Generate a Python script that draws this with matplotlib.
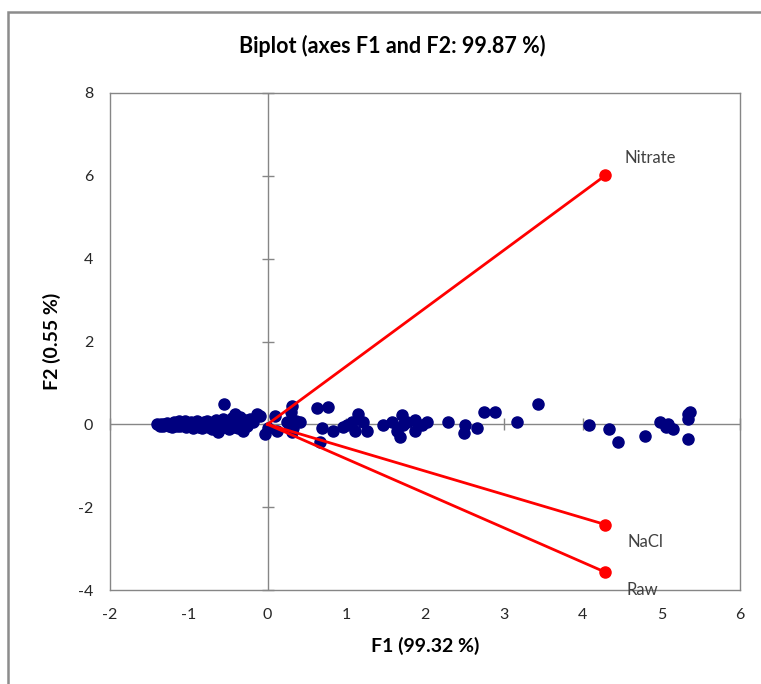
import matplotlib
matplotlib.use("Agg")
import matplotlib.pyplot as plt
from matplotlib.patches import Rectangle

plt.rcParams['font.family'] = ['Lato', 'DejaVu Sans']
plt.rcParams['axes.unicode_minus'] = False

# Observations (F1, F2)
obs_f1 = [-1.40, -1.37, -1.35, -1.33, -1.31, -1.29, -1.27, -1.25, -1.23, -1.21,
          -1.19, -1.17, -1.15, -1.13, -1.11, -1.09, -1.07, -1.05, -1.03, -1.01,
          -0.99, -0.97, -0.95, -0.93, -0.91, -0.89, -0.87, -0.85, -0.83, -0.81,
          -0.79, -0.77, -0.75, -0.73, -0.71, -0.69, -0.67, -0.65, -0.63, -0.61,
          -0.59, -0.57, -0.55, -0.53, -0.51, -0.49, -0.47, -0.45, -0.43, -0.41,
          -0.39, -0.37, -0.35, -0.33, -0.31, -0.29, -0.26, -0.22, -0.18, -0.13,
          -0.10, -0.03, 0.00,
          0.10, 0.12, 0.25, 0.28, 0.30, 0.31, 0.31, 0.33, 0.36, 0.41,
          0.63, 0.77, 0.69, 0.83, 0.67, 1.01, 1.07, 1.15, 1.11, 1.21, 1.26, 0.96,
          1.47, 1.58, 1.71, 1.64, 1.68, 1.72, 1.77, 1.87, 1.87, 1.96, 2.02,
          2.29, 2.51, 2.49, 2.66, 2.75, 2.89, 3.17, 3.44,
          4.08, 4.34, 4.45, 4.79, 4.99, 5.06, 5.09, 5.15, 5.34, 5.37, 5.34, 5.34]
obs_f2 = [0.00, -0.03, 0.02, -0.05, 0.01, -0.02, 0.04, -0.04, 0.02, -0.06,
          0.05, 0.00, -0.03, 0.07, -0.05, 0.03, -0.02, 0.08, -0.06, 0.02,
          -0.04, 0.06, -0.08, 0.03, -0.02, 0.09, -0.06, 0.01, -0.10, 0.05,
          -0.03, 0.08, -0.07, 0.02, -0.12, 0.06, -0.04, 0.10, -0.18, 0.03,
          -0.08, 0.12, 0.48, -0.05, 0.07, -0.12, 0.02, 0.15, -0.06, 0.24,
          0.05, -0.10, 0.17, 0.02, -0.15, 0.10, -0.03, 0.14, 0.06, 0.26,
          0.20, -0.24, -0.08,
          0.20, -0.15, 0.05, -0.10, 0.30, 0.45, -0.18, -0.08, 0.08, 0.05,
          0.39, 0.41, -0.10, -0.17, -0.43, -0.02, 0.05, 0.26, -0.15, 0.05, -0.15, -0.07,
          -0.02, 0.05, 0.22, -0.15, -0.30, -0.02, 0.05, 0.10, -0.15, -0.02, 0.05,
          0.05, -0.02, -0.22, -0.10, 0.29, 0.29, 0.05, 0.48,
          -0.02, -0.12, -0.43, -0.29, 0.05, -0.07, 0.00, -0.12, 0.26, 0.29, 0.12, -0.36]

# Variables (loadings)
var_names = ['Nitrate', 'NaCl', 'Raw']
var_f1 = [4.29, 4.29, 4.29]
var_f2 = [6.01, -2.42, -3.57]
label_offsets_px = [(19, 17), (22, -17), (21, -18)]

xticks = [-2, -1, 0, 1, 2, 3, 4, 5, 6]
yticks = [-4, -2, 0, 2, 4, 6, 8]

fig = plt.figure(figsize=(7.61, 6.84), dpi=100)
ax = fig.add_axes([110/761, 1 - 590/684, 630/761, 497/684])

gray = '#868686'
ax.set_xlim(-2, 6)
ax.set_ylim(-4, 8)
ax.set_xticks(xticks)
ax.set_yticks(yticks)
ax.tick_params(length=0, labelsize=11.5, labelcolor='#262626', pad=13)
ax.tick_params(axis='y', pad=12)
for s in ax.spines.values():
    s.set_color(gray)
    s.set_linewidth(1)

# zero axes with cross tick marks
ax.axhline(0, color=gray, lw=1, zorder=1)
ax.axvline(0, color=gray, lw=1, zorder=1)
ax.plot(xticks, [0]*len(xticks), ls='none', marker='|', ms=9, mew=1, color=gray, zorder=1, clip_on=False)
ax.plot([0]*len(yticks), yticks, ls='none', marker='_', ms=9, mew=1, color=gray, zorder=1, clip_on=False)

# observations
ax.plot(obs_f1, obs_f2, ls='none', marker='o', ms=8, color='#00007F', zorder=3)

# variable vectors
for name, vx, vy, off in zip(var_names, var_f1, var_f2, label_offsets_px):
    ax.plot([0, vx], [0, vy], color='#FF0000', lw=2, zorder=4)
    ax.plot([vx], [vy], marker='o', ms=8, color='#FF0000', zorder=5)
    ax.annotate(name, (vx, vy), xytext=off, textcoords='offset pixels',
                ha='left', va='center', fontsize=12, color='#404040', zorder=6)

fig.text(392/761, 1 - 46/684, 'Biplot (axes F1 and F2: 99.87 %)', fontsize=15.5,
         fontweight='bold', color='#000000', ha='center', va='center')
ax.set_xlabel('F1 (99.32 %)', fontsize=14, fontweight='bold', labelpad=11)
ax.set_ylabel('F2 (0.55 %)', fontsize=14, fontweight='bold', labelpad=12)

# outer chart frame
fig.add_artist(Rectangle((8/761, -0.1), 1.2, 1.1 - 12/684, transform=fig.transFigure,
                         fill=False, edgecolor='#8c8c8c', lw=1.8))

fig.savefig('out.png', dpi=100)
